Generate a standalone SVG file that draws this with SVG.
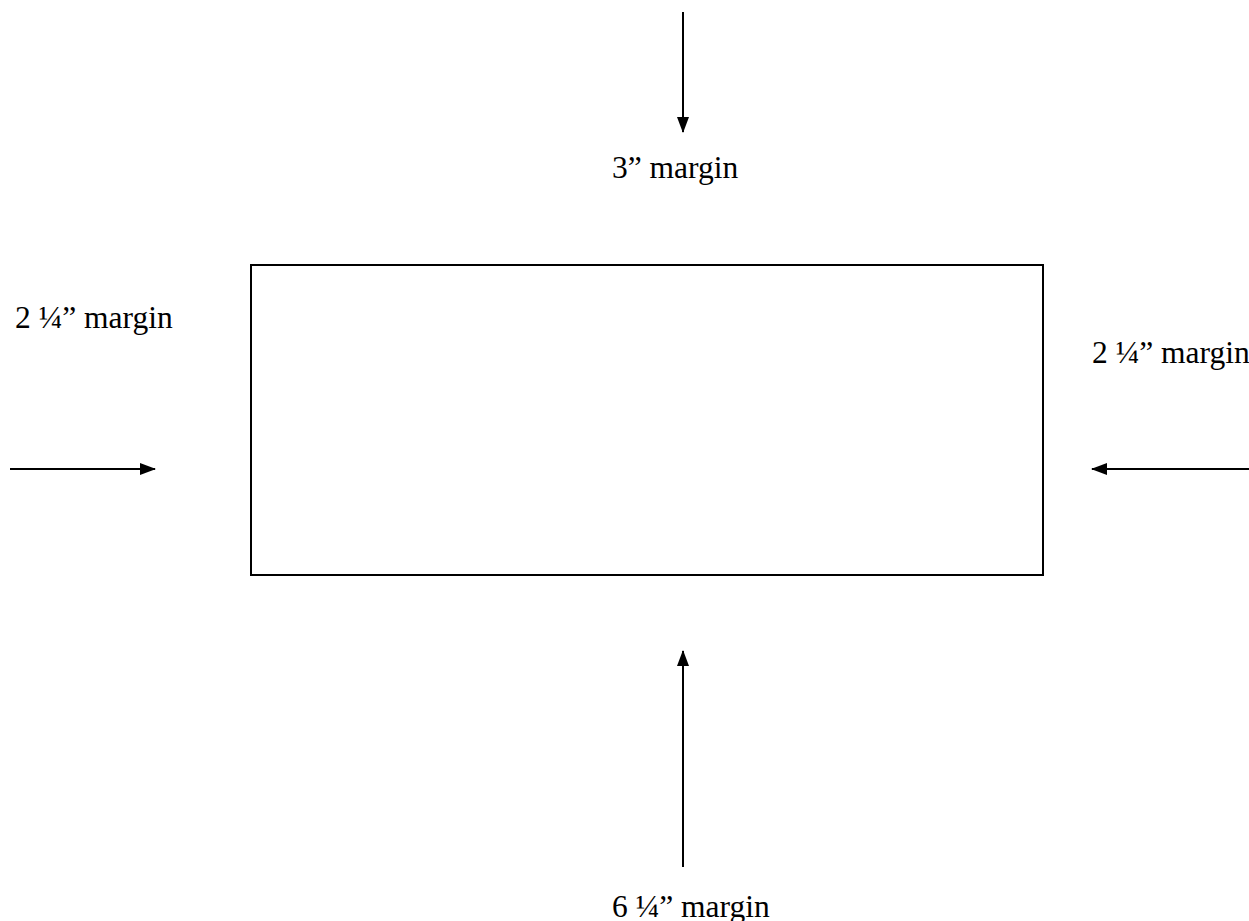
<svg xmlns="http://www.w3.org/2000/svg" width="1249" height="921" viewBox="0 0 1249 921">
<style>
.lbl{font-family:"Liberation Serif","Times New Roman",serif;font-size:31.5px;fill:#000}
.ln{stroke:#000;stroke-width:2;fill:none}
</style>
<defs>
<marker id="ah" markerUnits="userSpaceOnUse" markerWidth="16" markerHeight="12" refX="15" refY="6" orient="auto">
<polygon points="0,0 16,6 0,12" fill="#000"/>
</marker>
</defs>
<rect width="1249" height="921" fill="#fff"/>
<g id="page">
<rect x="251" y="265" width="792" height="310" class="ln"/>
</g>
<g id="connectors">
<line x1="683" y1="12" x2="683" y2="132" class="ln" marker-end="url(#ah)"/>
<line x1="10" y1="469" x2="155" y2="469" class="ln" marker-end="url(#ah)"/>
<line x1="1249" y1="469" x2="1092" y2="469" class="ln" marker-end="url(#ah)"/>
<line x1="683" y1="867" x2="683" y2="651" class="ln" marker-end="url(#ah)"/>
</g>
<g id="top-label"><text class="lbl" x="612" y="178">3” margin</text></g>
<g id="left-label"><text class="lbl" x="15" y="328">2 ¼” margin</text></g>
<g id="right-label"><text class="lbl" x="1092" y="363">2 ¼” margin</text></g>
<g id="bottom-label"><text class="lbl" x="612" y="917">6 ¼” margin</text></g>
</svg>
